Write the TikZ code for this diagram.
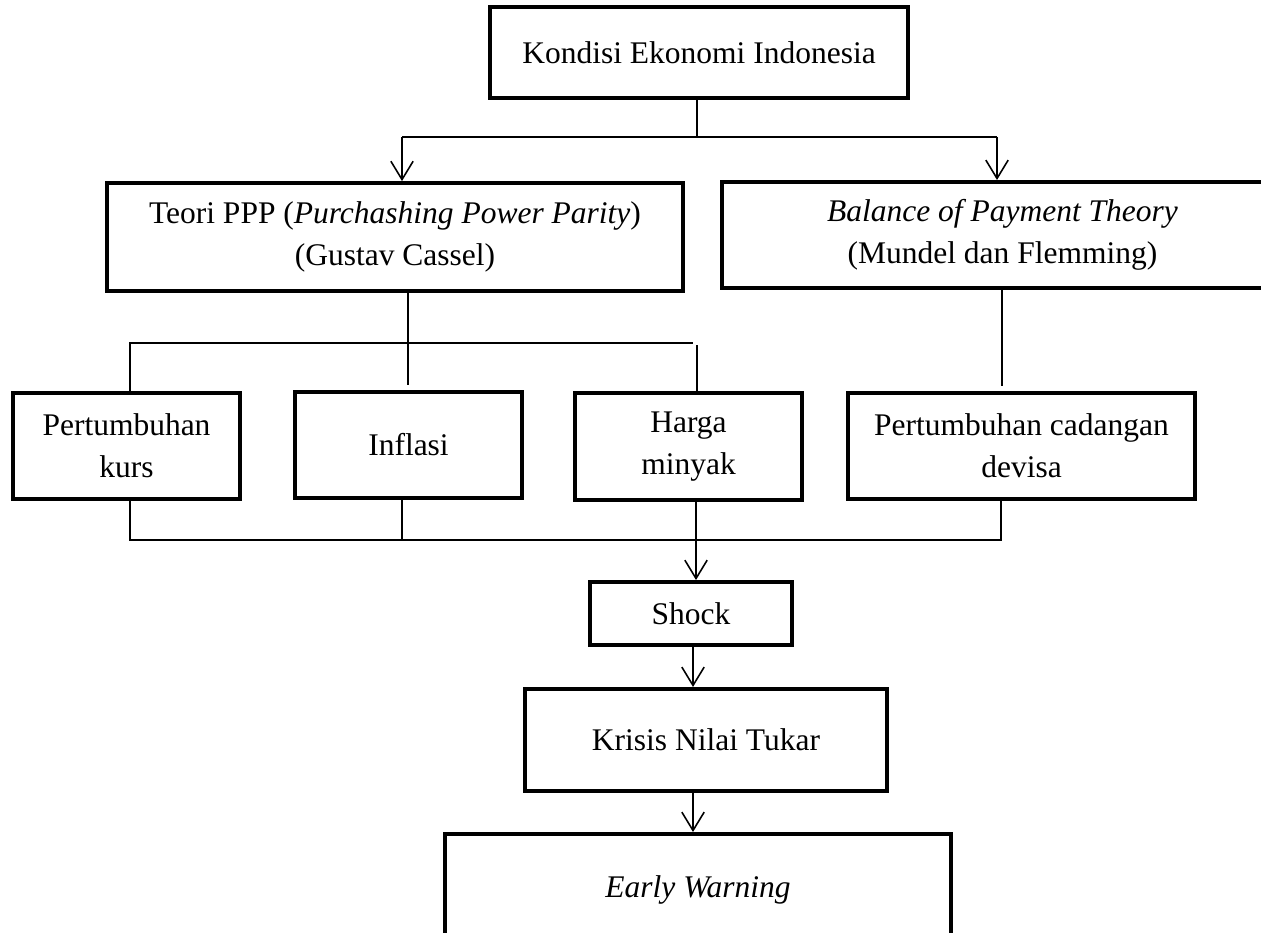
\documentclass[tikz,border=0pt]{standalone}
\usepackage{fontspec}
\setmainfont{Liberation Serif}
\usetikzlibrary{arrows.meta, positioning}

\begin{document}
\begin{tikzpicture}[x=0.381pt, y=-0.381pt,
  box/.style={draw, line width=1.5pt, align=center, inner sep=0pt, font=\fontsize{12}{16}\selectfont},
  link/.style={line width=0.6pt},
  arr/.style={-{Straight Barb[length=7pt, width=8.5pt]}, line width=0.6pt}]
\useasboundingbox (0,0) rectangle (1261,933);
\clip (0,0) rectangle (1261,933);
\node[box, minimum width=159.3pt, minimum height=34.7pt] (kondisi) at (699,52.5) {Kondisi Ekonomi Indonesia};
\node[box, minimum width=219.5pt, minimum height=41.1pt] (ppp) at (395,237) {Teori PPP (\textit{Purchashing Power Parity})\\(Gustav Cassel)};
\node[box, minimum width=213.7pt, minimum height=40.4pt] (bop) at (1002.5,235) {\textit{Balance of Payment Theory}\\(Mundel dan Flemming)};
\node[box, minimum width=86.5pt, minimum height=40.4pt] (kurs) at (126.5,446) {Pertumbuhan\\kurs};
\node[box, minimum width=86.5pt, minimum height=40.4pt] (inflasi) at (408.5,445) {Inflasi};
\node[box, minimum width=86.5pt, minimum height=40.8pt] (harga) at (688.5,446.5) {Harga\\minyak};
\node[box, minimum width=132.2pt, minimum height=40.4pt] (devisa) at (1021.5,446) {Pertumbuhan cadangan\\devisa};
\node[box, minimum width=77pt, minimum height=24pt] (shock) at (691,613.5) {Shock};
\node[box, minimum width=137.9pt, minimum height=38.9pt] (krisis) at (706,740) {Krisis Nilai Tukar};
\node[box, minimum width=192.8pt, minimum height=42.3pt] (early) at (698,889.5) {\textit{Early Warning}};

\coordinate (top) at (697,137);
\coordinate (topL) at (402,137);
\coordinate (topR) at (997,137);
\draw[link] (kondisi.south -| top) -- (top);
\draw[link] (topL) -- (topR);
\draw[arr] (topL) -- (topL |- ppp.north);
\draw[arr] (topR) -- (topR |- bop.north);

\coordinate (midL) at (130,343);
\coordinate (midR) at (693,343);
\coordinate (pppdown) at (408,385);
\coordinate (hargaup) at (697,345);
\coordinate (bopdown) at (1002,386);
\draw[link] (pppdown |- ppp.south) -- (pppdown);
\draw[link] (kurs.north -| midL) -- (midL) -- (midR);
\draw[link] (hargaup) -- (hargaup |- harga.north);
\draw[link] (bopdown |- bop.south) -- (bopdown);

\coordinate (botL) at (130,540);
\coordinate (botI) at (402,540);
\coordinate (botM) at (696,540);
\coordinate (botR) at (1001,540);
\coordinate (ax) at (693,700);
\draw[link] (kurs.south -| botL) -- (botL) -- (botR) -- (botR |- devisa.south);
\draw[link] (botI |- inflasi.south) -- (botI);
\draw[arr] (botM |- harga.south) -- (botM |- shock.north);
\draw[arr] (ax |- shock.south) -- (ax |- krisis.north);
\draw[arr] (ax |- krisis.south) -- (ax |- early.north);
\end{tikzpicture}
\end{document}
